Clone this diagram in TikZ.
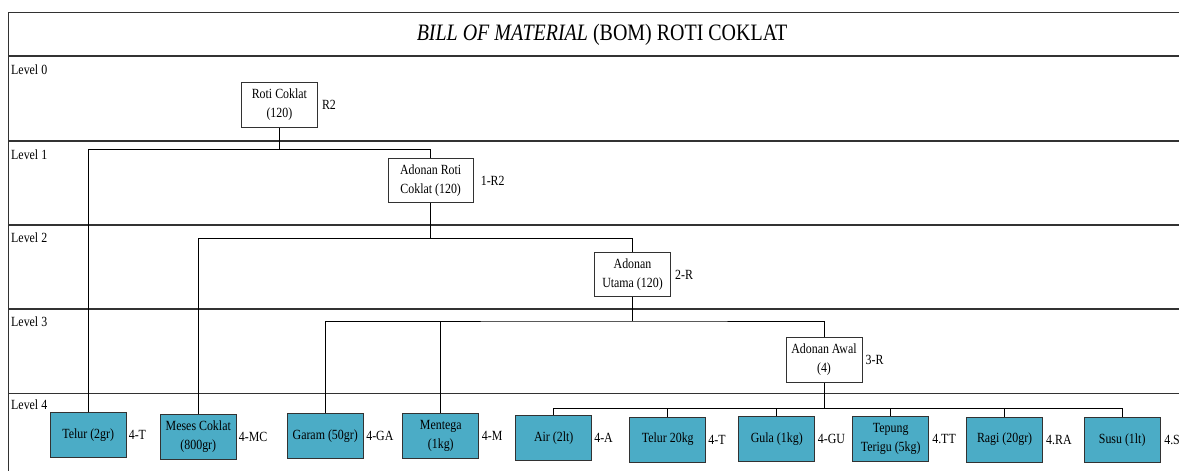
\documentclass[tikz,border=0pt]{standalone}
\usepackage{fontspec}
\setmainfont{Liberation Serif}[FakeStretch=0.85]
\definecolor{teal4}{RGB}{75,172,198}
\definecolor{frm}{RGB}{50,50,50}
\newcommand\bx{\fontsize{14}{19}\selectfont}
\tikzset{
  wbox/.style={draw=frm, line width=0.8pt, fill=white, minimum width=76pt, minimum height=45pt, align=center, inner sep=1pt, font=\bx},
  tbox/.style={wbox, fill=teal4},
  code/.style={anchor=west, inner sep=0pt, font=\bx},
  lvl/.style={anchor=base west, inner sep=0pt, font=\bx},
  conn/.style={draw=black, line width=0.9pt},
  frame/.style={draw=frm, line width=1.3pt}
}
\begin{document}
\begin{tikzpicture}[x=1pt,y=-1pt]
\useasboundingbox (0,0) rectangle (1179,471);
\clip (0,0) rectangle (1179,471);
% frame
\draw[frame] (8.4,471) -- (8.4,12.3) -- (1185,12.3);
\draw[frame, line width=1.6pt] (8.4,56) -- (1185,56);
\draw[frame] (8.4,141) -- (1185,141);
\draw[frame] (8.4,225) -- (1185,225);
\draw[frame] (8.4,309) -- (1185,309);
\draw[frame] (8.4,393.3) -- (1185,393.3);
% title
\node[inner sep=0pt] (title) at (602,34.5) {\fontsize{23.5}{28}\selectfont\textit{BILL OF MATERIAL} (BOM) ROTI COKLAT};
% level labels
\node[lvl] (l0) at (11,74.5) {Level 0};
\node[lvl] (l1) at (11,159.5) {Level 1};
\node[lvl] (l2) at (11,242.5) {Level 2};
\node[lvl] (l3) at (11,326.5) {Level 3};
\node[lvl] (l4) at (11,409.5) {Level 4};
% nodes
\node[wbox] (roti) at (279.4,104.8) {Roti Coklat\\(120)};
\node[code] (croti) at ([xshift=4pt]roti.east) {R2};
\node[wbox, minimum width=85pt, minimum height=44pt] (adroti) at (430.7,180.5) {Adonan Roti\\Coklat (120)};
\node[code] (cadroti) at ([xshift=7pt]adroti.east) {1-R2};
\node[wbox, minimum height=44pt] (utama) at (632.5,274.5) {Adonan\\Utama (120)};
\node[code] (cutama) at ([xshift=4pt]utama.east) {2-R};
\node[wbox] (awal) at (824,359.8) {Adonan Awal\\(4)};
\node[code] (cawal) at ([xshift=3pt]awal.east) {3-R};
% level 4
\node[tbox] (telurA) at (88.2,435.2) {Telur (2gr)};
\node[code] (ctelurA) at ([xshift=2pt]telurA.east) {4-T};
\node[tbox] (meses) at (198.3,436.7) {Meses Coklat\\(800gr)};
\node[code] (cmeses) at ([xshift=2pt]meses.east) {4-MC};
\node[tbox] (garam) at (325.2,436.3) {Garam (50gr)};
\node[code] (cgaram) at ([xshift=2.5pt]garam.east) {4-GA};
\node[tbox] (mentega) at (440.8,435.8) {Mentega\\(1kg)};
\node[code] (cmentega) at ([xshift=2.5pt]mentega.east) {4-M};
\node[tbox] (air) at (553.7,437.7) {Air (2lt)};
\node[code] (cair) at ([xshift=2pt]air.east) {4-A};
\node[tbox] (telurB) at (667.8,439.5) {Telur 20kg};
\node[code] (ctelurB) at ([xshift=2pt]telurB.east) {4-T};
\node[tbox] (gula) at (776.8,439) {Gula (1kg)};
\node[code] (cgula) at ([xshift=2.5pt]gula.east) {4-GU};
\node[tbox] (tepung) at (890.7,439.2) {Tepung\\Terigu (5kg)};
\node[code] (ctepung) at ([xshift=3pt]tepung.east) {4.TT};
\node[tbox] (ragi) at (1004.6,439.5) {Ragi (20gr)};
\node[code] (cragi) at ([xshift=3pt]ragi.east) {4.RA};
\node[tbox] (susu) at (1122.2,439.7) {Susu (1lt)};
\node[code] (csusu) at ([xshift=3.5pt]susu.east) {4.S};
% bus coordinates
\coordinate (b1) at (279.4,149.3);
\coordinate (b2) at (430.7,238.3);
\coordinate (b3) at (632.5,321);
\coordinate (b4) at (824,408.3);
% connectors
\draw[conn] (roti.south) -- (b1);
\draw[conn] (telurA.north) |- (b1) -| (adroti.north);
\draw[conn] (adroti.south) -- (b2);
\draw[conn] (meses.north) |- (b2) -| (utama.north);
\draw[conn] (utama.south) -- (b3);
\draw[conn] (garam.north) |- (b3) -| (awal.north);
\draw[conn] (mentega.north) -- (mentega.north |- b3);
\draw[conn] (awal.south) -- (b4);
\draw[conn] (air.north) |- (b4) -| (susu.north);
\draw[conn] (telurB.north) -- (telurB.north |- b4);
\draw[conn] (gula.north) -- (gula.north |- b4);
\draw[conn] (tepung.north) -- (tepung.north |- b4);
\draw[conn] (ragi.north) -- (ragi.north |- b4);
\end{tikzpicture}
\end{document}
